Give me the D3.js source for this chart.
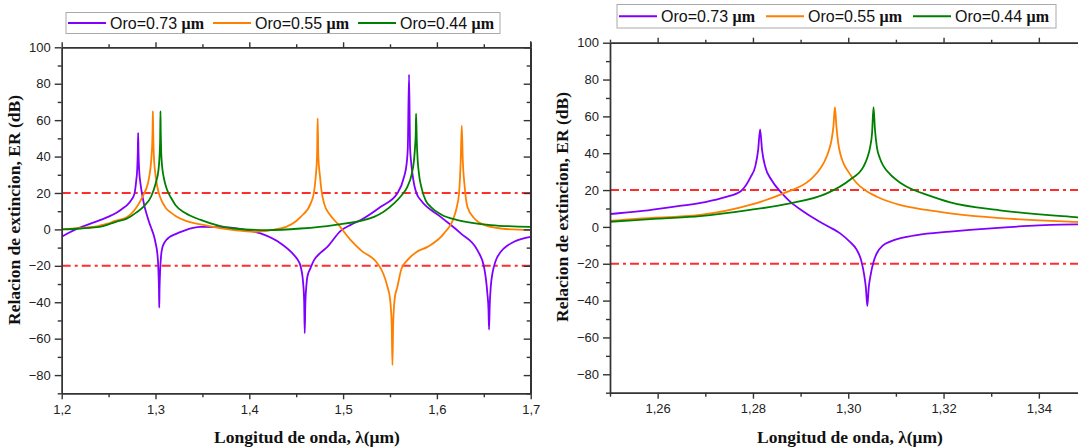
<!DOCTYPE html>
<html><head><meta charset="utf-8">
<script src="https://cdn.jsdelivr.net/npm/d3@7"></script>
<style>body{margin:0;background:#fff}svg{display:block}</style>
</head><body>
<svg id="c" width="1078" height="448"></svg>
<script>
// ---- data: [wavelength (µm), extinction ratio (dB)] ----
const oro073 = [[1.200,-4],[1.215,0],[1.230,3],[1.250,7],[1.258,9],[1.265,11.5],[1.270,13.5],[1.274,16],[1.2775,19.5],[1.2795,27],[1.2805,33],[1.2811,42],[1.2815,53],[1.2819,42],[1.2826,32.5],[1.2839,25.5],[1.2860,18.5],[1.2878,13.7],[1.2905,8.5],[1.2934,3.7],[1.2960,0],[1.2983,-3.5],[1.3003,-8],[1.3018,-12.5],[1.3028,-19],[1.3034,-27],[1.3037,-33],[1.3040,-43],[1.3043,-33],[1.3047,-26],[1.3053,-19],[1.3060,-14.3],[1.3073,-10],[1.3088,-8],[1.3115,-5.8],[1.3144,-4.4],[1.3214,-2.6],[1.3300,-0.8],[1.3400,0.8],[1.3480,1.4],[1.3700,1.2],[1.3900,0.3],[1.4120,-2.2],[1.4335,-7.7],[1.4477,-14.1],[1.4520,-17],[1.4548,-20.5],[1.4575,-30],[1.4585,-40],[1.4591,-57],[1.4598,-40],[1.4610,-30],[1.4619,-26],[1.4650,-21.5],[1.4690,-16.9],[1.4760,-12.8],[1.4832,-9.6],[1.4974,-0.8],[1.5081,2.5],[1.5188,5.1],[1.5401,12.4],[1.5579,19.8],[1.5650,28.9],[1.5677,36],[1.5690,45],[1.5703,85],[1.5714,45],[1.5725,37],[1.5738,31],[1.5760,24],[1.5790,19],[1.5827,16.1],[1.6040,6.9],[1.6254,-2.2],[1.6431,-11.4],[1.6502,-20.5],[1.6538,-35.2],[1.6550,-44],[1.6556,-55],[1.6563,-42],[1.6575,-31],[1.6592,-24.2],[1.6625,-17.5],[1.6681,-12.3],[1.6750,-9],[1.6822,-6.8],[1.7000,-4.1]];
const oro055 = [[1.200,0],[1.220,0.8],[1.240,2],[1.250,3.3],[1.2558,4.5],[1.2689,6.5],[1.2794,11.9],[1.2864,18.2],[1.2920,25.5],[1.2935,29.5],[1.2948,34.5],[1.2960,42],[1.2965,47.2],[1.2969,55],[1.2972,65],[1.2975,55],[1.2979,45.4],[1.2984,39],[1.2990,34.5],[1.3000,30],[1.3018,23.7],[1.3035,20],[1.3060,16.4],[1.3085,13.8],[1.3108,11.9],[1.3164,9.2],[1.3214,7.4],[1.3318,4.8],[1.3480,2.7],[1.3837,-0.4],[1.4050,-1.3],[1.4335,0.5],[1.4548,6.9],[1.4655,14.3],[1.4690,20.5],[1.4708,28.9],[1.4722,40],[1.4729,61],[1.4736,40],[1.4754,28.9],[1.4768,22],[1.4797,14.3],[1.4860,8],[1.4939,3.3],[1.5081,-5.9],[1.5188,-11.4],[1.5366,-18.7],[1.5430,-24.5],[1.5473,-31.5],[1.5500,-38],[1.5518,-52],[1.5526,-74.5],[1.5534,-52],[1.5550,-38],[1.5579,-31.5],[1.5620,-22],[1.5685,-16.9],[1.5780,-12.5],[1.5899,-9.6],[1.6076,-2.2],[1.6183,6.9],[1.6215,13],[1.6236,19.8],[1.6254,38],[1.6265,57],[1.6276,38],[1.6295,24],[1.6325,12.4],[1.6400,6],[1.6467,3.3],[1.6681,0.5],[1.7000,-0.4]];
const oro044 = [[1.200,0],[1.220,0.5],[1.2416,1.5],[1.250,2.8],[1.260,4.5],[1.2689,5.8],[1.2794,9.2],[1.2878,12.8],[1.2955,18.2],[1.3003,25.5],[1.3032,32.7],[1.3040,37.5],[1.3046,43.5],[1.3050,51],[1.3053,65],[1.3056,53],[1.3060,43.5],[1.3066,37.5],[1.3074,33],[1.3088,28.5],[1.3109,24],[1.3135,20.3],[1.3164,17.5],[1.3214,13.3],[1.3318,9],[1.3482,5.2],[1.3837,0.5],[1.4193,-0.4],[1.4548,0.5],[1.4903,2.4],[1.5330,6.9],[1.5543,14.3],[1.5620,18.5],[1.5685,23.4],[1.5730,30],[1.5756,38],[1.5768,46],[1.5774,52],[1.5778,63.5],[1.5786,48],[1.5795,38],[1.5810,30],[1.5840,22],[1.5880,16],[1.5934,12.4],[1.6050,8],[1.6219,5.1],[1.6574,2.4],[1.7000,1.4]];

const seriesNames = ["Oro=0.73 ", "Oro=0.55 ", "Oro=0.44 "];
const seriesUnit = "\u03bcm";
const thresholds = [20, -20];

const yTicks = [-80,-60,-40,-20,0,20,40,60,80,100];
const yMinor = [-90,-70,-50,-30,-10,10,30,50,70,90];
const xTicksLeft = [1.2,1.3,1.4,1.5,1.6,1.7];
const xMinorLeft = [1.25,1.35,1.45,1.55,1.65];
const xTicksRight = [1.26,1.28,1.30,1.32,1.34];
const xMinorRight = [1.25,1.27,1.29,1.31,1.33,1.35];

const yTitle = "Relacion de extincion, ER (dB)";
const xTitle = "Longitud de onda, \u03bb(\u03bcm)";

// ---- drawing ----
const colors = ["#8000ff", "#ff8000", "#008000"];
const series = [oro073, oro055, oro044].map(s => s.map(([x, y]) => ({x, y})));

const svg = d3.select("#c");
const fmtComma = (d, dec) => d.toFixed(dec).replace(".", ",");

function panel(o) {
  const x = d3.scaleLinear().domain(o.xd).range([o.x0, o.x1]);
  const y = d3.scaleLinear().domain([-90, 100]).range([o.y1, o.y0]);
  const g = svg.append("g");
  const cid = "clip" + o.id;
  svg.append("defs").append("clipPath").attr("id", cid)
    .append("rect").attr("x", o.x0).attr("y", o.y0).attr("width", Math.min(o.x1, 1078) - o.x0).attr("height", o.y1 - o.y0);

  const plot = g.append("g").attr("clip-path", `url(#${cid})`);
  thresholds.forEach(t => {
    plot.append("line").attr("x1", o.x0).attr("x2", o.x1).attr("y1", y(t)).attr("y2", y(t))
      .attr("stroke", "#ff2e2e").attr("stroke-width", 2).attr("stroke-dasharray", "9,4,3,4");
  });
  const line = d3.line().x(d => x(d.x)).y(d => y(d.y)).curve(d3.curveMonotoneX);
  series.forEach((s, i) => {
    plot.append("path").datum(s).attr("d", line).attr("fill", "none")
      .attr("stroke", colors[i]).attr("stroke-width", 1.8).attr("stroke-linejoin", "round");
  });

  const axStyle = sel => { sel.selectAll("path,line").attr("stroke", "#333").attr("stroke-width", 1.4);
    sel.selectAll("text").attr("font-family", "'Liberation Sans', Arial, sans-serif").attr("font-size", 13).attr("fill", "#222"); };

  // bottom
  g.append("g").attr("transform", `translate(0,${o.y1})`)
    .call(d3.axisBottom(x).tickValues(o.xt).tickSize(6).tickSizeOuter(0).tickPadding(5).tickFormat(d => fmtComma(d, o.dec)))
    .call(axStyle);
  g.append("g").attr("transform", `translate(0,${o.y1})`)
    .call(d3.axisBottom(x).tickValues(o.xm).tickSize(4).tickSizeOuter(0).tickFormat(""))
    .call(axStyle);
  // top
  g.append("g").attr("transform", `translate(0,${o.y0})`)
    .call(d3.axisTop(x).tickValues(o.xt).tickSize(5).tickSizeOuter(0).tickFormat(""))
    .call(axStyle);
  g.append("g").attr("transform", `translate(0,${o.y0})`)
    .call(d3.axisTop(x).tickValues(o.xm).tickSize(3).tickSizeOuter(0).tickFormat(""))
    .call(axStyle);
  // left
  g.append("g").attr("transform", `translate(${o.x0},0)`)
    .call(d3.axisLeft(y).tickValues(yTicks).tickSize(7).tickSizeOuter(0).tickPadding(4))
    .call(axStyle);
  g.append("g").attr("transform", `translate(${o.x0},0)`)
    .call(d3.axisLeft(y).tickValues(yMinor).tickSize(4).tickSizeOuter(0).tickFormat(""))
    .call(axStyle);
  // right (ticks inward)
  if (o.right) {
    g.append("g").attr("transform", `translate(${o.x1},0)`)
      .call(d3.axisLeft(y).tickValues(yTicks).tickSize(7).tickSizeOuter(0).tickFormat(""))
      .call(axStyle);
    g.append("g").attr("transform", `translate(${o.x1},0)`)
      .call(d3.axisLeft(y).tickValues(yMinor).tickSize(4).tickSizeOuter(0).tickFormat(""))
      .call(axStyle);
    g.append("line").attr("x1", o.x1).attr("x2", o.x1).attr("y1", o.y0 - 6).attr("y2", o.y1)
      .attr("stroke", "#333").attr("stroke-width", 1.4);
  }

  // titles
  g.append("text").attr("transform", `translate(${o.ytx},${o.yty}) rotate(-90)`)
    .attr("text-anchor", "middle").attr("font-family", "'Liberation Serif', 'Times New Roman', serif")
    .attr("font-weight", "bold").attr("font-size", 17.5).attr("fill", "#111").text(yTitle);
  g.append("text").attr("x", o.xtx).attr("y", 443)
    .attr("text-anchor", "middle").attr("font-family", "'Liberation Serif', 'Times New Roman', serif")
    .attr("font-weight", "bold").attr("font-size", 17.5).attr("fill", "#111").text(xTitle);

  // legend
  const lg = svg.append("g");
  lg.append("rect").attr("x", o.lx0).attr("y", o.ly0).attr("width", o.lx1 - o.lx0).attr("height", o.ly1 - o.ly0)
    .attr("fill", "#fff").attr("stroke", "#aaa").attr("stroke-width", 1);
  const cy = (o.ly0 + o.ly1) / 2;
  seriesNames.forEach((n, i) => {
    const sx = o.lx0 + 2 + i * o.lstep;
    lg.append("line").attr("x1", sx).attr("x2", sx + 38).attr("y1", cy).attr("y2", cy)
      .attr("stroke", colors[i]).attr("stroke-width", 1.8);
    const t = lg.append("text").attr("x", sx + 42).attr("y", cy + 5.5).attr("fill", "#111").attr("font-size", 16);
    t.append("tspan").attr("font-family", "'Liberation Sans', Arial, sans-serif").text(n);
    t.append("tspan").attr("font-family", "'Liberation Serif', 'Times New Roman', serif").attr("font-weight", "bold").text(seriesUnit);
  });
}

panel({id: "L", xd: [1.2, 1.7], x0: 61.7, x1: 530.7, y0: 47.3, y1: 393.3, xt: xTicksLeft, xm: xMinorLeft, dec: 1, right: true,
  ytx: 20, yty: 210, xtx: 307, lx0: 66, lx1: 500, ly0: 12.5, ly1: 33.5, lstep: 145});
panel({id: "R", xd: [1.25, 1.35], x0: 610, x1: 1086.5, y0: 42.7, y1: 392.7, xt: xTicksRight, xm: xMinorRight, dec: 2, right: false,
  ytx: 568, yty: 207, xtx: 850, lx0: 617, lx1: 1056, ly0: 4.5, ly1: 28, lstep: 147});
</script>
</body></html>
